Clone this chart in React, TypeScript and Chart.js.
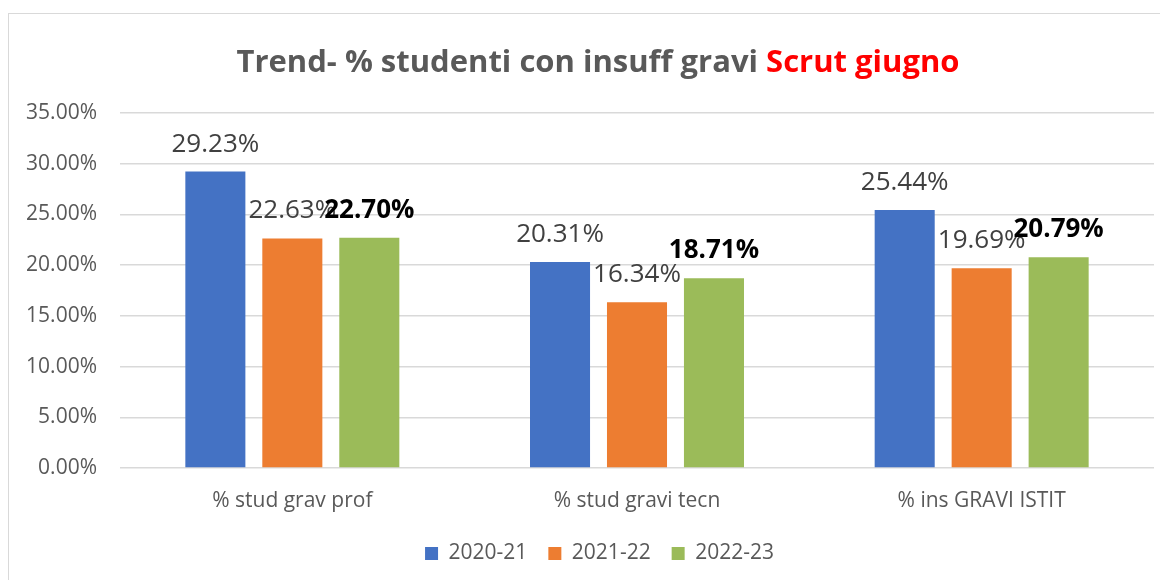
import React, { useEffect, useRef } from "react";
import { Chart, registerables } from "chart.js";

Chart.register(...registerables);

const categories = ["% stud grav prof", "% stud gravi tecn", "% ins GRAVI ISTIT"];
const seriesNames = ["2020-21", "2021-22", "2022-23"];
const values2020 = [29.23, 20.31, 25.44];
const values2021 = [22.63, 16.34, 19.69];
const values2022 = [22.7, 18.71, 20.79];
const seriesColors = ["#4472C4", "#ED7D31", "#9BBB59"];
const boldSeries = [false, false, true];
const yTicksMax = 35;
const yStep = 5;

const FONT = "'Open Sans', 'Noto Sans', sans-serif";

const labelPlugin = {
  id: "valueLabels",
  afterDatasetsDraw(chart: any) {
    const ctx = chart.ctx;
    chart.data.datasets.forEach((ds: any, i: number) => {
      const meta = chart.getDatasetMeta(i);
      ctx.save();
      ctx.font = (boldSeries[i] ? "bold " : "") + "26px " + FONT;
      ctx.fillStyle = boldSeries[i] ? "#000000" : "#404040";
      ctx.textAlign = "center";
      ctx.textBaseline = "alphabetic";
      meta.data.forEach((el: any, j: number) => {
        ctx.fillText(ds.data[j].toFixed(2) + "%", el.x, el.y - 20);
      });
      ctx.restore();
    });
  },
};

// shift the legend so it is centred on the whole chart box, as in the reference
const legendShift = {
  id: "legendShift",
  afterLayout(chart: any) {
    if (chart.legend) chart.legend.left += 36;
  },
};

export default function App() {
  const ref = useRef<HTMLCanvasElement>(null);
  useEffect(() => {
    document.body.style.overflow = "hidden";
    const chart = new Chart(ref.current!, {
      type: "bar",
      data: {
        labels: categories,
        datasets: [values2020, values2021, values2022].map((d, i) => ({
          label: seriesNames[i],
          data: d,
          backgroundColor: seriesColors[i],
          borderWidth: 0,
          categoryPercentage: 0.67,
          barPercentage: 0.78,
        })),
      },
      options: {
        animation: false,
        responsive: false,
        maintainAspectRatio: false,
        layout: { padding: { top: 99, right: 71, left: 0, bottom: 20 } },
        scales: {
          x: {
            grid: { display: false },
            border: { display: false },
            ticks: { color: "#595959", font: { family: FONT, size: 21 }, padding: 12 },
            afterFit(scale: any) {
              scale.height = 54;
            },
          },
          y: {
            min: 0,
            max: yTicksMax,
            grid: { color: "#d9d9d9", lineWidth: 1.5, drawTicks: false },
            border: { display: false },
            ticks: {
              stepSize: yStep,
              color: "#595959",
              font: { family: FONT, size: 21 },
              padding: 23,
              callback: (v: any) => Number(v).toFixed(2) + "%",
            },
            afterFit(scale: any) {
              scale.width = 111;
            },
          },
        },
        plugins: {
          title: { display: false },
          tooltip: { enabled: false },
          legend: {
            position: "bottom",
            labels: {
              color: "#595959",
              font: { family: FONT, size: 21 },
              boxWidth: 13,
              boxHeight: 13,
              padding: 21,
            },
          },
        },
      },
      plugins: [labelPlugin, legendShift],
    });
    return () => chart.destroy();
  }, []);

  return (
    <div
      style={{
        position: "relative",
        marginTop: 5,
        width: 1180,
        height: 600,
        border: "1px solid #d9d9d9",
        boxSizing: "border-box",
      }}
    >
      <div
        style={{
          position: "absolute",
          top: 25,
          left: 0,
          width: 1178,
          textAlign: "center",
          fontFamily: FONT,
          fontWeight: "bold",
          fontSize: 31,
          lineHeight: "42px",
          color: "#595959",
          whiteSpace: "nowrap",
        }}
      >
        Trend- % studenti con insuff gravi <span style={{ color: "#ff0000" }}>Scrut giugno</span>
      </div>
      <canvas ref={ref} width={1216} height={580} style={{ display: "block" }} />
    </div>
  );
}
